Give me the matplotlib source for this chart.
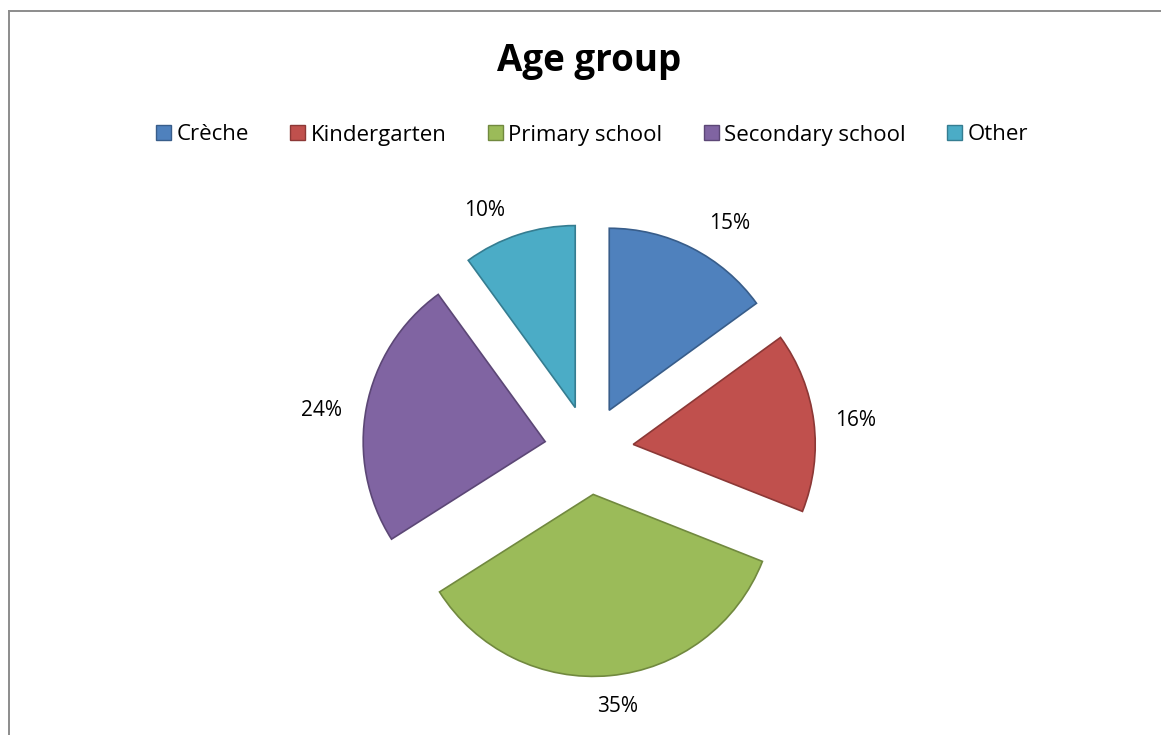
import matplotlib
matplotlib.use("Agg")
import matplotlib.pyplot as plt
from matplotlib.lines import Line2D
from matplotlib.patches import Patch

categories = ["Crèche", "Kindergarten", "Primary school", "Secondary school", "Other"]
shares = [15, 16, 35, 24, 10]
fill_colors = ["#4F81BD", "#C0504D", "#9BBB59", "#8064A2", "#4BACC6"]
edge_colors = ["#385D8A", "#8C3836", "#71893F", "#5C4776", "#357D91"]

# pixel nudges for the percentage labels (best-fit placement)
label_nudge = [(20, -9), (4, -4), (4, 7), (-7, -10), (-23, -12)]

W, H = 1161, 735
plt.rcParams["font.family"] = ["Open Sans", "DejaVu Sans"]

fig = plt.figure(figsize=(W / 100, H / 100), dpi=100)
fig.patch.set_facecolor("white")

# axes in pixel units so that one data unit equals one pixel
ax = fig.add_axes([0, 0, 1, 1])

radius = 182
center = (589, H - 450)
offset = 44.6

wedges, texts, autotexts = ax.pie(
    shares,
    radius=radius,
    center=center,
    startangle=90,
    counterclock=False,
    explode=[offset] * len(shares),
    colors=fill_colors,
    autopct="%1.0f%%",
    pctdistance=1.21,
    wedgeprops=dict(linewidth=1.2),
    textprops=dict(fontsize=15, color="black"),
    frame=True,
)
ax.set_xlim(0, W)
ax.set_ylim(0, H)
ax.set_aspect("equal")
ax.axis("off")
for w, ec in zip(wedges, edge_colors):
    w.set_edgecolor(ec)
for t, (dx, dy) in zip(autotexts, label_nudge):
    x, y = t.get_position()
    t.set_position((x + dx, y + dy))

fig.text(589 / W, 1 - 71 / H, "Age group", ha="center", va="baseline",
         fontsize=26.5, fontweight="bold")

handles = [Patch(facecolor=fc, edgecolor=ec, linewidth=1.0)
           for fc, ec in zip(fill_colors, edge_colors)]
fig.legend(handles, categories, loc="center", ncol=5, frameon=False,
           bbox_to_anchor=(592 / W, 1 - 135 / H), fontsize=16,
           handlelength=0.68, handleheight=0.68, handletextpad=0.25,
           columnspacing=1.85, borderaxespad=0, borderpad=0)

# outer chart border (left and top edges visible)
fig.add_artist(Line2D([8.5 / W, 8.5 / W], [0, 1 - 10.5 / H], transform=fig.transFigure,
                      color="#8C8C8C", linewidth=1.4))
fig.add_artist(Line2D([8.5 / W, 1], [1 - 10.5 / H, 1 - 10.5 / H], transform=fig.transFigure,
                      color="#8C8C8C", linewidth=1.4))

fig.savefig("out.png", dpi=100, facecolor="white")
